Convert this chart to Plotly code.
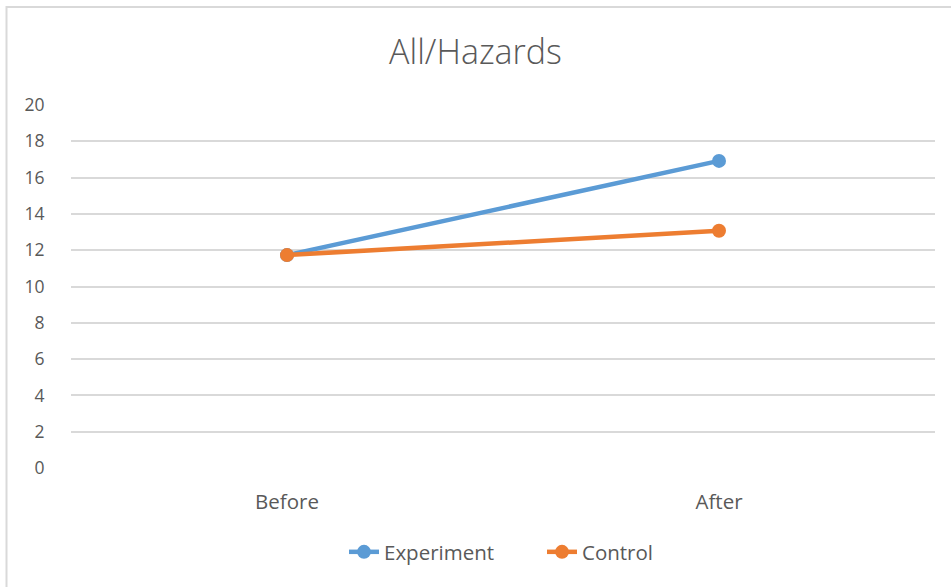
import plotly.graph_objects as go

categories = ["Before", "After"]
experiment = [11.73, 16.92]
control = [11.73, 13.07]
y_ticks = [0, 2, 4, 6, 8, 10, 12, 14, 16, 18, 20]

W, H = 951, 587
L, R, T, B = 71, 16, 105, 119
pw, ph = W - L - R, H - T - B

fig = go.Figure()
fig.add_trace(go.Scatter(
    x=categories, y=experiment, name="Experiment", mode="lines+markers",
    line=dict(color="#5B9BD5", width=4.5), marker=dict(size=14, color="#5B9BD5")))
fig.add_trace(go.Scatter(
    x=categories, y=control, name="Control", mode="lines+markers",
    line=dict(color="#ED7D31", width=4.5), marker=dict(size=14, color="#ED7D31")))

def px_x(v):
    return (v - L) / pw

def px_y(v):
    return (H - B - v) / ph

fig.update_layout(
    width=W, height=H,
    margin=dict(l=L, r=R, t=T, b=B),
    paper_bgcolor="white", plot_bgcolor="white",
    font=dict(family="Open Sans", color="#595959", size=20),
    title=dict(text="All/Hazards", x=0.5, xanchor="center", y=1 - 52 / H, yanchor="middle",
               font=dict(size=34, color="#595959", family="Open Sans", weight=300)),
    xaxis=dict(range=[-0.5, 1.5], showgrid=False, showline=False, zeroline=False,
               ticks="outside", ticklen=15, tickcolor="rgba(0,0,0,0)",
               tickfont=dict(size=20.5, color="#595959")),
    yaxis=dict(range=[0, 20], tickvals=y_ticks, showgrid=True, gridcolor="#D9D9D9", gridwidth=1.5,
               zeroline=False, showline=False, ticks="outside", ticklen=22,
               tickcolor="rgba(0,0,0,0)", tickfont=dict(size=17.5, color="#595959")),
    legend=dict(orientation="h", x=px_x(344), xanchor="left", y=px_y(552), yanchor="middle",
                entrywidth=153, entrywidthmode="pixels",
                font=dict(size=20.5, color="#595959")),
    showlegend=True,
    shapes=[dict(type="rect", xref="paper", yref="paper",
                 x0=px_x(6.5), x1=px_x(965), y0=px_y(600), y1=px_y(7),
                 line=dict(color="#D9D9D9", width=2), fillcolor="rgba(0,0,0,0)", layer="below")],
)

fig.write_html("out.html", config={"displayModeBar": False},
               post_script="document.body.style.margin='0';document.body.style.overflow='hidden';")
